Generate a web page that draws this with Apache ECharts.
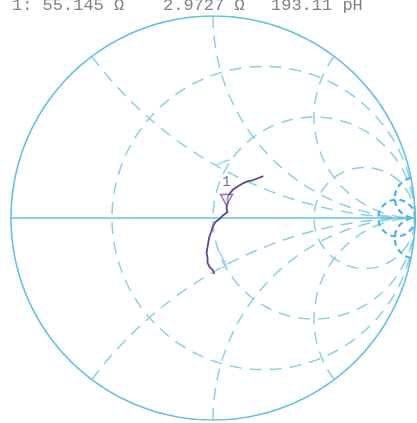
<!DOCTYPE html>
<html>
<head>
<meta charset="utf-8">
<script src="https://cdn.jsdelivr.net/npm/echarts@6/dist/echarts.min.js"></script>
<style>
html,body{margin:0;padding:0;background:#fff;}
#chart{width:417px;height:423px;}
</style>
</head>
<body>
<div id="chart"></div>
<script>
// ---- data ----
const headerTexts = ['1: 55.145 \u03a9', '2.9727 \u03a9', '193.11 pH'];
const headerX = [12, 163, 271];
const solidR = [0];              // outer boundary circle
const solidX = [0];              // real axis
const gridR = [1/3, 1, 3];       // constant-resistance circles (dashed)
const gridX = [0.5, 1, 2, -0.5, -1, -2]; // constant-reactance arcs (dashed)
const denseR = [10];             // crowded lines near the open-circuit point
const denseX = [10, -10];
// measured trace, reflection coefficient (real, imag)
const traceRe = [0.249,0.225,0.200,0.175,0.151,0.126,0.101,0.081,0.072,0.072,0.067,0.072,0.052,0.032,0.012,-0.002,-0.007,-0.017,-0.022,-0.027,-0.032,-0.027,-0.027,-0.017,-0.002,0.007];
const traceIm = [0.207,0.198,0.188,0.183,0.173,0.158,0.143,0.119,0.099,0.074,0.049,0.030,0.015,-0.005,-0.020,-0.044,-0.064,-0.089,-0.114,-0.143,-0.173,-0.198,-0.222,-0.242,-0.257,-0.277];
// faint second trace pieces
const ref1Re = [0.017,0.047,0.084];
const ref1Im = [0.262,0.277,0.287];
const ref2Re = [0.032,0.057,0.067,0.042];
const ref2Im = [-0.168,-0.217,-0.237,-0.247];
// marker 1
const markerRe = [0.067];
const markerIm = [0.089];
const markerLabel = ['1'];

// ---- Smith chart geometry helpers ----
function rCircle(r){
  const c = r/(1+r), rad = 1/(1+r), pts = [];
  for(let i=0;i<=720;i++){const a=i*Math.PI/360; pts.push([c+rad*Math.cos(a), rad*Math.sin(a)]);}
  return pts;
}
function xArc(x){
  const pts = [];
  for(let i=0;i<=600;i++){
    const t = Math.tan(i/600*Math.PI/2*0.99995);
    const nr=t-1, ni=x, dr=t+1, di=x, den=dr*dr+di*di;
    pts.push([(nr*dr+ni*di)/den, (ni*dr-nr*di)/den]);
  }
  return pts;
}
const zip = (a,b)=>a.map((v,i)=>[v,b[i]]);

const solidStyle = {color:'#5ec3e4', width:1.6, type:'solid'};
const dashStyle = {color:'#8ad0e2', width:1.5, type:[12,8]};
const denseStyle = {color:'#4cb2e8', width:2.2, type:[6,4]};
const series = [];
solidR.forEach(r=>series.push({type:'line',data:rCircle(r),showSymbol:false,lineStyle:solidStyle,silent:true,z:3}));
solidX.forEach(x=>series.push({type:'line',data:xArc(x),showSymbol:false,lineStyle:solidStyle,silent:true,z:3}));
gridR.forEach(r=>series.push({type:'line',data:rCircle(r),showSymbol:false,lineStyle:dashStyle,silent:true,z:2}));
gridX.forEach(x=>series.push({type:'line',data:xArc(x),showSymbol:false,lineStyle:dashStyle,silent:true,z:2}));
denseR.forEach(r=>series.push({type:'line',data:rCircle(r),showSymbol:false,lineStyle:denseStyle,silent:true,z:2}));
denseX.forEach(x=>series.push({type:'line',data:xArc(x),showSymbol:false,lineStyle:denseStyle,silent:true,z:2}));
series.push({type:'line',data:zip(ref1Re,ref1Im),showSymbol:false,lineStyle:{color:'#9fd6ee',width:1.5},silent:true,z:4});
series.push({type:'line',data:zip(ref2Re,ref2Im),showSymbol:false,lineStyle:{color:'#9fd6ee',width:1.5},silent:true,z:4});
series.push({type:'line',data:zip(traceRe,traceIm),showSymbol:false,lineStyle:{color:'#5e4592',width:1.8},silent:true,z:5});
series.push({type:'scatter',data:zip(markerRe,markerIm).map((p,i)=>({value:p,name:markerLabel[i]})),
  symbol:'triangle',symbolRotate:180,symbolSize:[12,11],
  itemStyle:{color:'rgba(255,255,255,0.5)',borderColor:'#6a4f9e',borderWidth:1.4},
  label:{show:true,position:'top',distance:5,formatter:'{b}',color:'#4e4468',fontSize:14,fontFamily:'Liberation Mono'},
  silent:true,z:6});

const chart = echarts.init(document.getElementById('chart'));
chart.setOption({
  animation:false,
  backgroundColor:'#fff',
  grid:{left:11,top:16,width:404,height:404},
  xAxis:{type:'value',min:-1,max:1,show:false},
  yAxis:{type:'value',min:-1,max:1,show:false},
  graphic: headerTexts.map((t,i)=>({type:'text',left:headerX[i],top:-3,
    style:{text:t,fill:'#808288',font:'17px "Liberation Mono", monospace'}})),
  series: series
});
</script>
</body>
</html>
